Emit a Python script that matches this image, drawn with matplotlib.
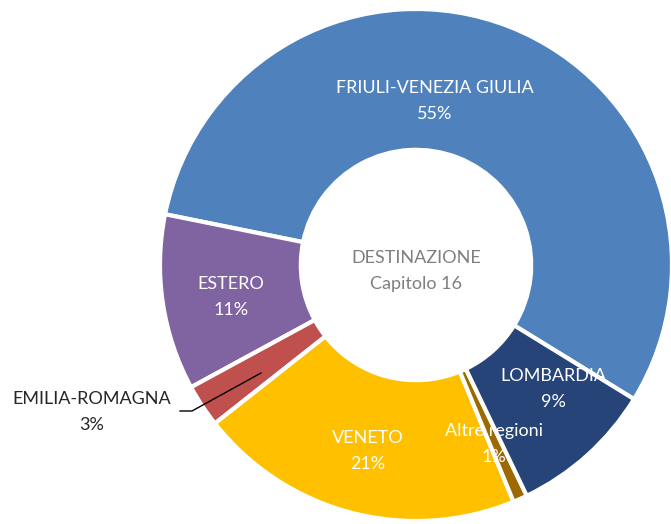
import numpy as np
import matplotlib.pyplot as plt

# Dati (percentuali, in senso antiorario)
regioni = ['FRIULI-VENEZIA GIULIA', 'ESTERO', 'EMILIA-ROMAGNA', 'VENETO',
           'Altre regioni', 'LOMBARDIA']
valori = [55.6, 11.1, 2.7, 20.6, 0.9, 9.1]
etichette_pct = ['55%', '11%', '3%', '21%', '1%', '9%']
colori = ['#4F81BD', '#8064A2', '#C0504D', '#FFC000', '#9C6A00', '#264478']

# posizione delle etichette (pixel dell'immagine)
pos_label = [(435, 88), (231, 284), (92, 399), (368, 438), (494, 431), (553, 376)]
col_label = ['white', 'white', '#262626', 'white', 'white', 'white']

W, H = 671, 524
cx, cy, R = 416, 265, 256

def to_data(px, py):
    return (px - cx) / R, -(py - cy) / R

fig = plt.figure(figsize=(W / 100, H / 100), dpi=100)
ax = fig.add_axes([0, 0, 1, 1])
ax.pie(valori, colors=colori, startangle=-31.6, counterclock=True,
       radius=1.0, wedgeprops=dict(width=0.55, edgecolor='white', linewidth=3))
ax.set_xlim(-cx / R, (W - cx) / R)
ax.set_ylim(-(H - cy) / R, cy / R)
ax.set_aspect('equal')
ax.axis('off')

font = 'Lato'
for nome, pct, (px, py), c in zip(regioni, etichette_pct, pos_label, col_label):
    x, y = to_data(px, py)
    ax.text(x, y, nome, ha='center', va='center', color=c, fontsize=13, family=font)
    x2, y2 = to_data(px, py + 26)
    ax.text(x2, y2, pct, ha='center', va='center', color=c, fontsize=13, family=font)

# linea guida Emilia-Romagna
lx = [to_data(p, 0)[0] for p in (180, 192, 261)]
ly = [to_data(0, p)[1] for p in (411, 411, 373)]
ax.plot(lx, ly, color='black', linewidth=1)

# testo centrale
x, y = to_data(416, 258)
ax.text(x, y, 'DESTINAZIONE', ha='center', va='center', color='#7F7F7F', fontsize=13, family=font)
x, y = to_data(416, 284)
ax.text(x, y, 'Capitolo 16', ha='center', va='center', color='#7F7F7F', fontsize=13, family=font)

fig.savefig('out.png', dpi=100)
